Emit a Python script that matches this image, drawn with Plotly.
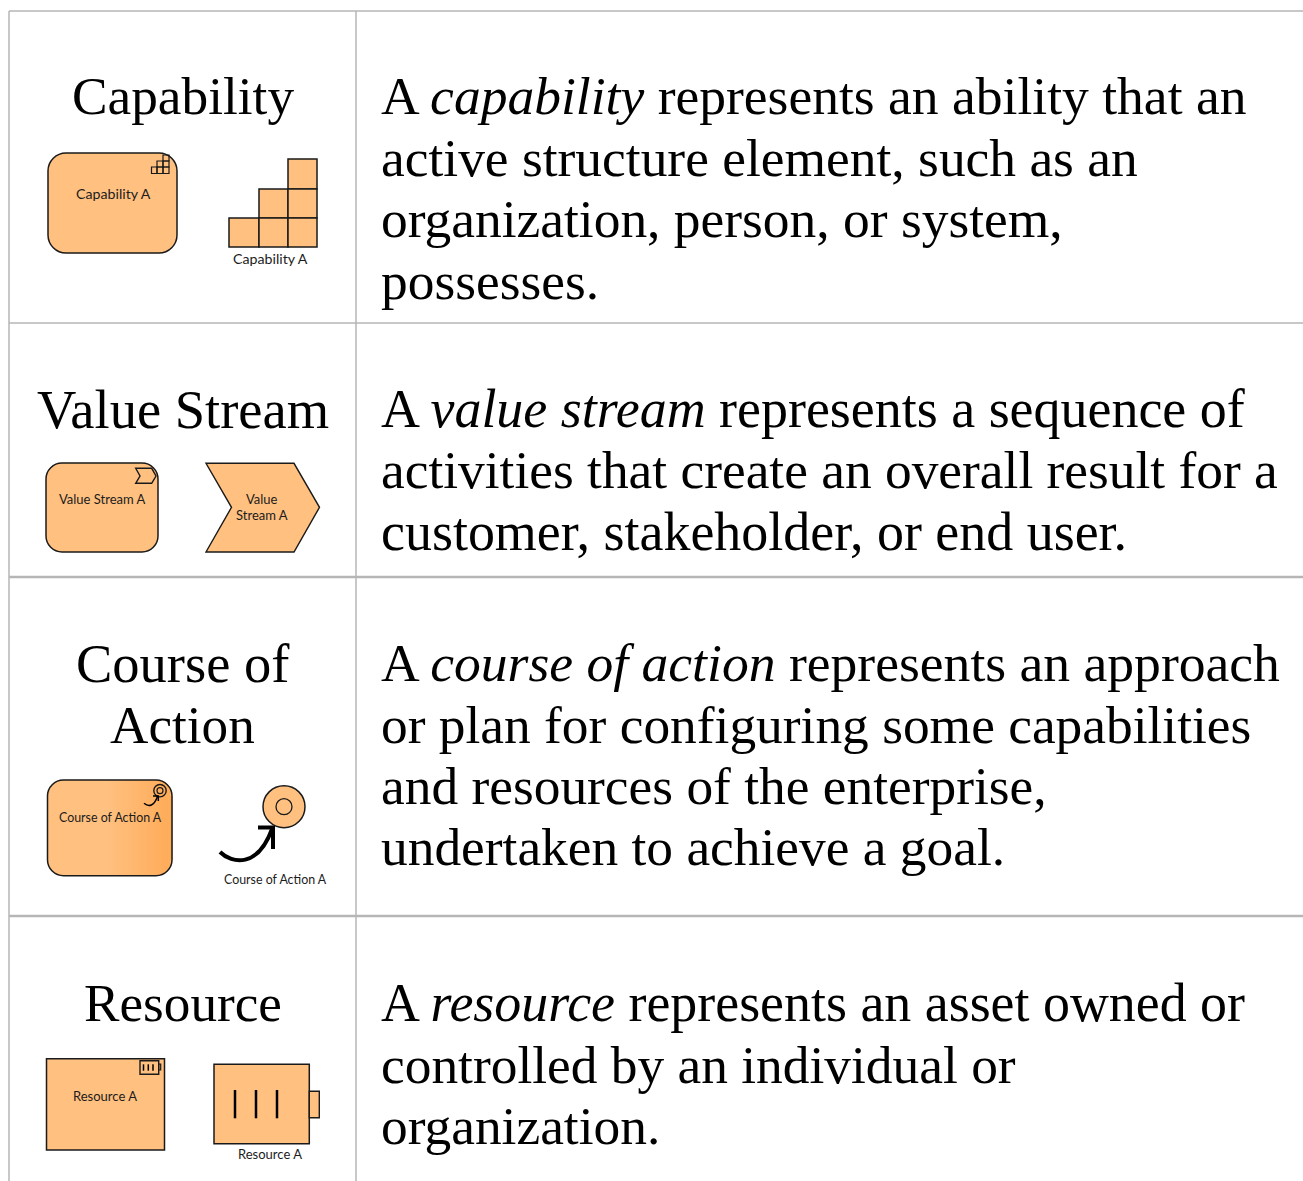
import math
import plotly.graph_objects as go

ROW_TITLES = [["Capability"], ["Value Stream"], ["Course of", "Action"], ["Resource"]]
ROW_TEXT = [
    ["A <i>capability</i> represents an ability that an", "active structure element, such as an",
     "organization, person, or system,", "possesses."],
    ["A <i>value stream</i> represents a sequence of", "activities that create an overall result for a",
     "customer, stakeholder, or end user."],
    ["A <i>course of action</i> represents an approach", "or plan for configuring some capabilities",
     "and resources of the enterprise,", "undertaken to achieve a goal."],
    ["A <i>resource</i> represents an asset owned or", "controlled by an individual or", "organization."],
]
TITLE_Y = [[96], [409], [663, 725], [1003]]
TITLE_SIZE = [[53.3], [54.5], [54.5, 53.2], [53.2]]
TEXT_Y = [[96, 157.5, 219, 281], [409, 470, 532], [663, 725, 786, 847], [1003, 1065, 1126]]
TEXT_SIZE = [[53.55, 53.45, 53.45, 53.4], [53.95, 53.4, 53.95], [53.6, 53.4, 53.4, 53.4], [53.9, 53.4, 53.4]]
SMALL_TEXT = ["Capability A", "Capability A", "Value Stream A", "Value", "Stream A", "Course of Action A",
              "Course of Action A", "Resource A", "Resource A"]
SMALL_X = [113, 270.5, 102, 262, 262, 110, 275, 104.5, 270]
SMALL_Y = [193.5, 258.5, 498.5, 498.5, 514.5, 817.5, 879.5, 1095.5, 1154]
SMALL_SIZE = [14.2, 14.2, 13, 13, 13, 12.4, 12.4, 13, 13]

SERIF = "Liberation Serif"
FILL = "#FFC080"
INK = "#1a1a1a"
GRID = "#b6b6b6"
W, H = 1303, 1181
shapes = []


def add(path, fill=None, lw=1.5, color=INK):
    shapes.append(dict(type="path", path=path, fillcolor=fill if fill else "rgba(0,0,0,0)",
                       line=dict(color=color, width=lw)))


def rrect(x0, y0, x1, y1, r):
    c = r * 0.45
    return (f"M{x0+r},{y0} L{x1-r},{y0} C{x1-c},{y0} {x1},{y0+c} {x1},{y0+r} L{x1},{y1-r} "
            f"C{x1},{y1-c} {x1-c},{y1} {x1-r},{y1} L{x0+r},{y1} C{x0+c},{y1} {x0},{y1-c} {x0},{y1-r} "
            f"L{x0},{y0+r} C{x0},{y0+c} {x0+c},{y0} {x0+r},{y0} Z")


def rect(x0, y0, x1, y1, fill=None, lw=1.5, color=INK):
    shapes.append(dict(type="rect", x0=x0, y0=y0, x1=x1, y1=y1, fillcolor=fill if fill else "rgba(0,0,0,0)",
                       line=dict(color=color, width=lw)))


def circle(cx, cy, r, fill=None, lw=1.5):
    shapes.append(dict(type="circle", x0=cx-r, y0=cy-r, x1=cx+r, y1=cy+r,
                       fillcolor=fill if fill else "rgba(0,0,0,0)", line=dict(color=INK, width=lw)))


def line(x0, y0, x1, y1, lw=1.5, color=INK):
    shapes.append(dict(type="line", x0=x0, y0=y0, x1=x1, y1=y1, line=dict(color=color, width=lw)))


# table grid
line(9, 11, 9, H, 1.5, GRID)
line(356, 11, 356, H, 1.5, GRID)
line(9, 11, W, 11, 1.5, GRID)
line(9, 323, W, 323, 1.5, GRID)
line(9, 577, W, 577, 2.5, GRID)
line(9, 916, W, 916, 2.5, GRID)

# capability
add(rrect(48, 153, 177, 253, 18), FILL)
for (a, b, c, d) in [(163, 155, 169, 161), (157, 161, 163, 167), (163, 161, 169, 167),
                     (151.5, 167, 157, 173.5), (157, 167, 163, 173.5), (163, 167, 169, 173.5)]:
    rect(a, b, c, d, None, 1.2)
for (a, b, c, d) in [(288, 159, 317, 189), (259, 189, 288, 218), (288, 189, 317, 218),
                     (229, 218, 259, 247), (259, 218, 288, 247), (288, 218, 317, 247)]:
    rect(a, b, c, d, FILL, 1.5)

# value stream
add(rrect(46, 463, 158, 552, 16), FILL)
add("M135.7,468.3 L151.7,468.3 L156,476 L151.7,483.3 L135.7,483.3 L140,476 Z", None, 1.4)
add("M206,463.3 L294,463.3 L319.5,507.3 L294,552 L206,552 L231.5,507.3 Z", FILL, 1.4)

# course of action: rounded box with a stepped horizontal gradient towards the right edge
bx0, by0, bx1, by1, br = 47.5, 780, 172, 875.7, 16
add(rrect(bx0, by0, bx1, by1, br), FILL, 0)
N = 34
for i in range(N):
    x0 = 108 + i * (bx1 - 108) / N
    x1 = x0 + (bx1 - 108) / N
    t = (i + 1) / N
    col = f"rgb(255,{round(192 - 21 * t)},{round(128 - 40 * t)})"
    inset = 0
    if x1 > bx1 - br:
        dx = min(x1 - (bx1 - br), br)
        inset = br - math.sqrt(br * br - dx * dx)
    shapes.append(dict(type="rect", x0=x0, x1=x1 + 0.4, y0=by0 + inset, y1=by1 - inset, fillcolor=col,
                       line=dict(width=0)))
add(rrect(bx0, by0, bx1, by1, br), None, 1.5)
circle(160, 790.7, 6.2, None, 1.4)
circle(160, 790.7, 3, None, 1.2)
add("M144,803.3 C149,807.5 154,806 157.5,796.5", None, 1.5, "#000000")
add("M153,796 L158.3,796 L158.3,801", None, 1.5, "#000000")
circle(284, 806.7, 21, FILL, 1.5)
circle(284, 806.7, 8, None, 1.3)
add("M220,852 C232,864 258,868 272,829", None, 4, "#000000")
add("M258,827.5 L273,827.5 L273,849", None, 4, "#000000")

# resource
rect(46.5, 1058.7, 164.5, 1150, FILL, 1.5)
rect(140, 1060.7, 158.7, 1074.3, None, 1.4)
rect(158.7, 1064, 160.7, 1070, None, 1.2)
for x in (143.5, 148.3, 153):
    line(x, 1064.3, x, 1070.7, 1.5, "#000000")
rect(214, 1064.3, 309.3, 1143.7, FILL, 1.5)
rect(309.3, 1091.3, 319.3, 1117.7, FILL, 1.4)
for x in (235, 256, 277):
    line(x, 1090, x, 1118.3, 2.5, "#000000")

annotations = []


def text(s, x, y, size, family, anchor="left", color="#000000"):
    annotations.append(dict(text=s, x=x, y=y, xref="x", yref="y", xanchor=anchor, yanchor="middle",
                            showarrow=False, align=anchor, borderpad=0,
                            font=dict(family=family, size=size, color=color)))


for lines, ys, sizes in zip(ROW_TITLES, TITLE_Y, TITLE_SIZE):
    for s, y, size in zip(lines, ys, sizes):
        text(s, 182.5, y, size, SERIF, "center")
for lines, ys, sizes in zip(ROW_TEXT, TEXT_Y, TEXT_SIZE):
    for s, y, size in zip(lines, ys, sizes):
        text(s, 380, y, size, SERIF)
for s, x, y, size in zip(SMALL_TEXT, SMALL_X, SMALL_Y, SMALL_SIZE):
    text(s, x, y, size, "Lato", "center", "#1c1c1c")

fig = go.Figure()
fig.update_layout(
    width=W, height=H, margin=dict(l=0, r=0, t=0, b=0), showlegend=False,
    paper_bgcolor="white", plot_bgcolor="white",
    xaxis=dict(range=[0, W], visible=False, fixedrange=True),
    yaxis=dict(range=[H, 0], visible=False, fixedrange=True),
    shapes=shapes, annotations=annotations,
)
fig.write_html("out.html", config=dict(displayModeBar=False),
               post_script="document.body.style.margin='0';document.documentElement.style.overflow='hidden';")
